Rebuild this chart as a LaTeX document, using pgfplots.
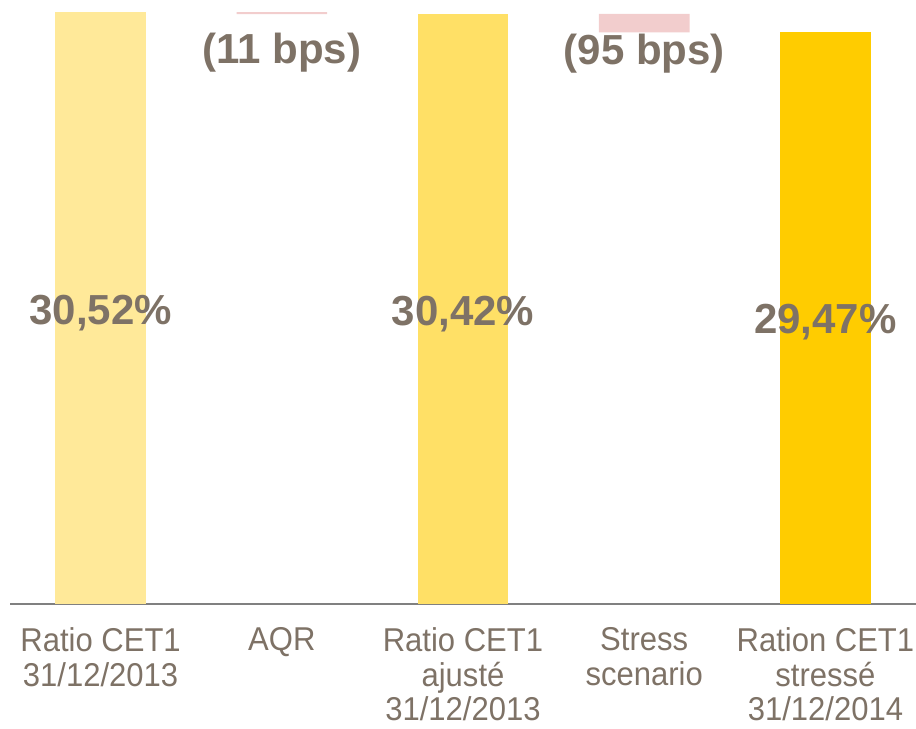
\documentclass[border=0pt]{standalone}
\usepackage{pgfplots}
\pgfplotsset{compat=1.18}
\usepackage{fontspec}
\setmainfont{Liberation Sans}
\newfontfamily\tickfont[FakeStretch=0.94]{Liberation Sans}
\definecolor{txt}{RGB}{126,114,102}
\definecolor{cA}{RGB}{255,233,153}
\definecolor{cB}{RGB}{255,224,102}
\definecolor{cC}{RGB}{255,204,0}
\definecolor{pk}{RGB}{242,205,205}
\definecolor{axl}{RGB}{128,128,128}
\begin{document}
\begin{tikzpicture}
\path[use as bounding box] (0,0) rectangle (916bp,729bp);
\begin{axis}[
  at={(10bp,125bp)}, anchor=south west,
  scale only axis, width=906bp, height=604bp,
  xmin=-0.5, xmax=4.5, ymin=0, ymax=31.14,
  ybar stacked, bar width=0.5,
  axis x line*=bottom, axis y line=none,
  x axis line style={draw=axl, line width=2bp},
  xtick={0,1,2,3,4},
  xticklabels={{Ratio CET1\\31/12/2013},{AQR},{Ratio CET1\\ajusté\\31/12/2013},{Stress\\scenario},{Ration CET1\\stressé\\31/12/2014}},
  xtick style={draw=none},
  xticklabel style={align=center, inner sep=0pt, yshift=-23.5bp, text=txt, font=\tickfont\fontsize{33bp}{34.5bp}\selectfont},
  clip=false,
]
\addplot[draw=none, fill=none] coordinates {(0,0) (1,30.41) (2,0) (3,29.47) (4,0)};
\addplot[draw=none, fill=cA] coordinates {(0,30.52) (1,0) (2,0) (3,0) (4,0)};
\addplot[draw=none, fill=pk] coordinates {(0,0) (1,0.11) (2,0) (3,0.95) (4,0)};
\addplot[draw=none, fill=cB] coordinates {(0,0) (1,0) (2,30.42) (3,0) (4,0)};
\addplot[draw=none, fill=cC] coordinates {(0,0) (1,0) (2,0) (3,0) (4,29.47)};
\coordinate (l1) at (axis cs:0,14.43);
\coordinate (l2) at (axis cs:2,14.38);
\coordinate (l3) at (axis cs:4,13.92);
\coordinate (l4) at (axis cs:1,27.89);
\coordinate (l5) at (axis cs:3,27.79);
\end{axis}
\tikzset{vl/.style={anchor=base, text=txt, font=\fontsize{42bp}{46bp}\selectfont\bfseries}}
\node[vl] at (l1) {30,52\%};
\node[vl] at (l2) {30,42\%};
\node[vl] at (l3) {29,47\%};
\node[vl] at (l4) {(11 bps)};
\node[vl] at (l5) {(95 bps)};
\end{tikzpicture}
\end{document}
